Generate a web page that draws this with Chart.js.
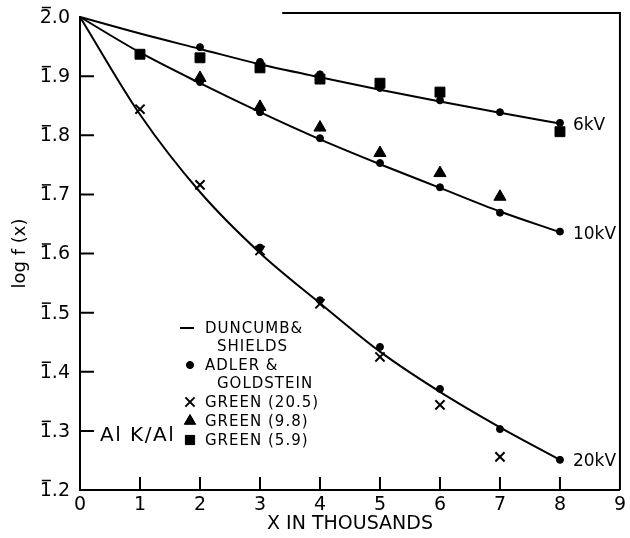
<!DOCTYPE html>
<html>
<head>
<meta charset="utf-8">
<script src="https://cdn.jsdelivr.net/npm/chart.js@4"></script>
<style>
  body { margin: 0; background: #fff; }
  #grafico { display: block; }
</style>
</head>
<body>
<canvas id="grafico" width="630" height="538"></canvas>
<script>
// tick values / labels (first digit carries a bar: negative characteristic)
const xTicks = [0, 1, 2, 3, 4, 5, 6, 7, 8, 9];
const yTicks = [1.2, 1.3, 1.4, 1.5, 1.6, 1.7, 1.8, 1.9, 2.0];
const yTickLabels = ['1.2', '1.3', '1.4', '1.5', '1.6', '1.7', '1.8', '1.9', '2.0'];

// Duncumb & Shields curves
const curveX = [0, 1, 2, 3, 4, 5, 6, 7, 8];
const duncumb6kV = [2.0, 1.972, 1.946, 1.920, 1.898, 1.877, 1.857, 1.838, 1.820];
const duncumb10kV = [2.0, 1.940, 1.888, 1.839, 1.793, 1.751, 1.711, 1.671, 1.636];
const duncumb20kV = [2.0, 1.835, 1.704, 1.601, 1.516, 1.434, 1.366, 1.306, 1.251];
const curveLabels = ['6kV', '10kV', '20kV'];

// Adler & Goldstein (dots)
const adler6X = [2, 3, 4, 5, 6, 7, 8];
const adler6 = [1.949, 1.924, 1.903, 1.880, 1.859, 1.839, 1.821];
const adler10X = [2, 3, 4, 5, 6, 7, 8];
const adler10 = [1.890, 1.839, 1.795, 1.753, 1.712, 1.669, 1.637];
const adler20X = [3, 4, 5, 6, 7, 8];
const adler20 = [1.610, 1.521, 1.442, 1.371, 1.303, 1.251];

// Green
const green205X = [1, 2, 3, 4, 5, 6, 7];
const green205 = [1.844, 1.716, 1.605, 1.515, 1.425, 1.344, 1.256];
const green98X = [2, 3, 4, 5, 6, 7];
const green98 = [1.897, 1.848, 1.813, 1.770, 1.736, 1.696];
const green59X = [1, 2, 3, 4, 5, 6, 8];
const green59 = [1.937, 1.931, 1.914, 1.895, 1.888, 1.873, 1.806];

const legendLines = [
    { mark: 'line', text: ['DUNCUMB&', 'SHIELDS'] },
    { mark: 'circle', text: ['ADLER &', 'GOLDSTEIN'] },
    { mark: 'crossRot', text: ['GREEN (20.5)'] },
    { mark: 'triangle', text: ['GREEN (9.8)'] },
    { mark: 'rect', text: ['GREEN (5.9)'] }
];

const pts = (xs, ys) => xs.map((x, i) => ({ x: x, y: ys[i] }));
const FONT = '"DejaVu Sans", sans-serif';

function curve(data) {
    return {
        type: 'line', data: pts(curveX, data), borderColor: '#000', borderWidth: 2,
        pointRadius: 0, cubicInterpolationMode: 'monotone', fill: false, clip: false
    };
}
function marks(xs, ys, style, r) {
    return {
        type: 'scatter', data: pts(xs, ys), pointStyle: style, pointRadius: r,
        backgroundColor: '#000', borderColor: '#000', borderWidth: style === 'crossRot' ? 2 : 1, clip: false
    };
}

const decor = {
    id: 'decor',
    afterDraw(chart) {
        const ctx = chart.ctx;
        const xs = chart.scales.x, ys = chart.scales.y;
        const a = chart.chartArea;
        ctx.save();
        ctx.strokeStyle = '#000';
        ctx.fillStyle = '#000';
        ctx.lineWidth = 2;
        // inner ticks
        ctx.beginPath();
        for (let i = 1; i <= 8; i++) {
            const px = xs.getPixelForValue(i);
            ctx.moveTo(px, a.bottom); ctx.lineTo(px, a.bottom - 13);
        }
        for (let i = 1; i <= 7; i++) {
            const py = ys.getPixelForValue(yTicks[i]);
            ctx.moveTo(a.left, py); ctx.lineTo(a.left + 14, py);
        }
        // right + partial top frame
        ctx.moveTo(xs.getPixelForValue(9), a.bottom);
        ctx.lineTo(xs.getPixelForValue(9), a.top - 4);
        ctx.lineTo(xs.getPixelForValue(3.37), a.top - 4);
        ctx.stroke();

        // y tick labels with bar over the first digit
        ctx.font = '19px ' + FONT;
        ctx.textBaseline = 'middle';
        ctx.textAlign = 'left';
        ctx.lineWidth = 1.5;
        yTicks.forEach((v, i) => {
            const t = yTickLabels[i];
            const py = ys.getPixelForValue(v) + 1;
            const w = ctx.measureText(t).width;
            const x0 = a.left - 10 - w;
            const w1 = ctx.measureText(t[0]).width;
            ctx.fillText(t, x0, py);
            ctx.beginPath();
            ctx.moveTo(x0 + 2, py - 10.5); ctx.lineTo(x0 + w1 - 1, py - 10.5);
            ctx.stroke();
        });
        ctx.lineWidth = 2;

        // curve end labels
        ctx.font = '17px ' + FONT;
        const ends = [duncumb6kV, duncumb10kV, duncumb20kV];
        ends.forEach((d, i) => {
            const px = xs.getPixelForValue(8), py = ys.getPixelForValue(d[d.length - 1]);
            ctx.fillText(curveLabels[i], px + 13, py + 2);
        });

        // Al K/Al
        ctx.font = '20px ' + FONT;
        ctx.letterSpacing = '1.5px';
        ctx.fillText('Al K/Al', a.left + 20, 436);

        // legend
        ctx.font = '15px ' + FONT;
        ctx.letterSpacing = '1px';
        let y = 328;
        legendLines.forEach(item => {
            const mx = 190;
            if (item.mark === 'line') {
                ctx.beginPath(); ctx.moveTo(180, y); ctx.lineTo(194, y); ctx.stroke();
            } else {
                const r = item.mark === 'circle' ? 3.5 : 6.5;
                ctx.lineWidth = item.mark === 'crossRot' ? 2 : 1;
                Chart.helpers.drawPoint(ctx, { pointStyle: item.mark, radius: r, borderWidth: ctx.lineWidth }, mx, y);
                ctx.fill();
                ctx.lineWidth = 2;
            }
            item.text.forEach((t, k) => {
                ctx.fillText(t, k === 0 ? 205 : 217, y + 1);
                y += k === 0 && item.text.length > 1 ? 18 : 0;
            });
            y += 19;
        });
        ctx.restore();
    }
};

new Chart(document.getElementById('grafico').getContext('2d'), {
    data: {
        datasets: [
            curve(duncumb6kV), curve(duncumb10kV), curve(duncumb20kV),
            marks(adler6X, adler6, 'circle', 3.5),
            marks(adler10X, adler10, 'circle', 3.5),
            marks(adler20X, adler20, 'circle', 3.5),
            marks(green205X, green205, 'crossRot', 6.5),
            marks(green98X, green98, 'triangle', 7),
            marks(green59X, green59, 'rect', 7)
        ]
    },
    options: {
        responsive: false,
        animation: false,
        devicePixelRatio: 1,
        layout: { padding: { top: 17, right: 10, bottom: 0, left: 0 } },
        plugins: { legend: { display: false }, tooltip: { enabled: false } },
        scales: {
            x: {
                type: 'linear', min: 0, max: 9,
                afterBuildTicks: s => { s.ticks = xTicks.map(v => ({ value: v })); },
                afterFit: s => { s.height = 48; },
                grid: { display: false, drawTicks: false },
                border: { display: true, color: '#000', width: 2 },
                ticks: { color: '#000', font: { family: FONT, size: 19 }, padding: 4 },
                title: { display: true, text: 'X IN THOUSANDS', color: '#000',
                    font: { family: FONT, size: 19 }, padding: { top: 0, bottom: 3 } }
            },
            y: {
                type: 'linear', min: 1.2, max: 2.0,
                afterBuildTicks: s => { s.ticks = yTicks.map(v => ({ value: v })); },
                afterFit: s => { s.width = 80; },
                grid: { display: false, drawTicks: false },
                border: { display: true, color: '#000', width: 2 },
                ticks: { display: false },
                title: { display: true, text: 'log f (x)', color: '#000',
                    font: { family: FONT, size: 18 }, padding: { top: 10, bottom: 0 } }
            }
        }
    },
    plugins: [decor]
});
</script>
</body>
</html>
